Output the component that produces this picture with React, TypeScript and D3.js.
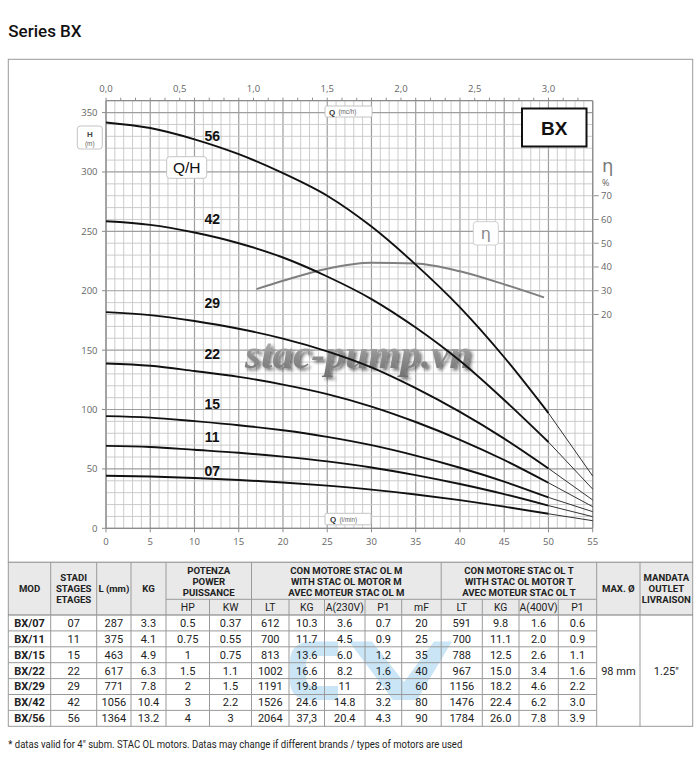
import React from 'react';
import * as d3 from 'd3';

// ---------- Curve data (flow in l/min, head in m) ----------
const flowLmin = [0, 5, 10, 15, 20, 25, 30, 35, 40, 45, 50, 55];
const head56 = [341.7, 337, 327.5, 315, 299, 280, 254, 222, 186, 144, 97, 44];
const head42 = [258.5, 255.5, 249, 240, 228, 212, 193, 169, 141, 108, 72.6, 33];
const head29 = [182, 179.5, 174.5, 168, 159.7, 149, 135.5, 118, 98, 75.5, 50.4, 23.8];
const head22 = [138.7, 136.8, 132.4, 127.5, 121, 113, 102.5, 89.5, 74.5, 57.5, 38.3, 18.2];
const head15 = [94.4, 93.2, 90.2, 86.8, 82.5, 77, 70, 61.2, 51, 39.3, 26, 14];
const head11 = [69.4, 68.5, 66.1, 63.6, 60.3, 56.3, 51.2, 44.8, 37.3, 28.8, 19.1, 9.8];
const head07 = [44.2, 43.6, 42.3, 40.7, 38.6, 35.9, 32.6, 28.5, 23.7, 18.2, 12.2, 6.4];
const curveNames = ['56', '42', '29', '22', '15', '11', '07'];
const curveHeads = [head56, head42, head29, head22, head15, head11, head07];

// efficiency curve
const effFlow = [17, 20, 25, 30, 35, 40, 45, 49.5];
const effValues = [30.7, 34.2, 39.3, 41.8, 41.5, 38.2, 32.7, 27.2];

// axis ticks
const headTicks = [0, 50, 100, 150, 200, 250, 300, 350];
const flowTicks = [0, 5, 10, 15, 20, 25, 30, 35, 40, 45, 50, 55];
const m3hLabels = [0, 0.5, 1.0, 1.5, 2.0, 2.5, 3.0];
const effTicks = [20, 30, 40, 50, 60, 70];

// ---------- Table data ----------
const models = ['BX/07', 'BX/11', 'BX/15', 'BX/22', 'BX/29', 'BX/42', 'BX/56'];
const stages = ['07', '11', '15', '22', '29', '42', '56'];
const lengthMm = ['287', '375', '463', '617', '771', '1056', '1364'];
const pumpKg = ['3.3', '4.1', '4.9', '6.3', '7.8', '10.4', '13.2'];
const powerHp = ['0.5', '0.75', '1', '1.5', '2', '3', '4'];
const powerKw = ['0.37', '0.55', '0.75', '1.1', '1.5', '2.2', '3'];
const mLt = ['612', '700', '813', '1002', '1191', '1526', '2064'];
const mKg = ['10.3', '11.7', '13.6', '16.6', '19.8', '24.6', '37,3'];
const mAmp = ['3.6', '4.5', '6.0', '8.2', '11', '14.8', '20.4'];
const mP1 = ['0.7', '0.9', '1.2', '1.6', '2.3', '3.2', '4.3'];
const mMf = ['20', '25', '35', '40', '60', '80', '90'];
const tLt = ['591', '700', '788', '967', '1156', '1476', '1784'];
const tKg = ['9.8', '11.1', '12.5', '15.0', '18.2', '22.4', '26.0'];
const tAmp = ['1.6', '2.0', '2.6', '3.4', '4.6', '6.2', '7.8'];
const tP1 = ['0.6', '0.9', '1.1', '1.6', '2.2', '3.0', '3.9'];
const maxDiameter = '98 mm';
const outletSize = '1.25"';

const subHeaders = ['HP', 'KW', 'LT', 'KG', 'A(230V)', 'P1', 'mF', 'LT', 'KG', 'A(400V)', 'P1'];

// ---------- Layout ----------
const W = 700;
const H = 772;
const plot = { left: 106, right: 592.7, top: 100.7, bottom: 528.3 };
const labelFlow = 12;
const labelHead = [330.5, 260, 189.3, 146.5, 104.5, 76.8, 48.2];
const colX = [8.3, 50.7, 96.7, 131, 166, 209.5, 251.5, 289, 324.5, 365, 401.7, 441.2, 482.3, 519, 558.3, 596.7, 640, 692.7];
const tableTop = 562.3;
const subTop = 599.3;
const headerBottom = 615;
const rowH = 15.9;

const axisFont = '"Open Sans", "Liberation Sans", sans-serif';
const tableFont = 'Roboto, "Liberation Sans", sans-serif';

export default function App() {
  const x = d3.scaleLinear().domain([0, 55]).range([plot.left, plot.right]);
  const y = d3.scaleLinear().domain([0, 360]).range([plot.bottom, plot.top]);
  const xM3 = d3.scaleLinear().domain([0, 3.3]).range([plot.left, plot.right]);
  const yEff = d3.scaleLinear().domain([0, 110]).range([y(140), y(360)]);

  const line = d3
    .line<number>()
    .x((_, i) => x(flowLmin[i]))
    .y((d) => y(d))
    .curve(d3.curveMonotoneX);

  const effLine = d3
    .line<number>()
    .x((_, i) => x(effFlow[i]))
    .y((d) => yEff(d))
    .curve(d3.curveMonotoneX);

  const minorV = d3.range(0, 56, 1);
  const minorH = d3.range(0, 361, 10);
  const m3hMinor = d3.range(0, 33).map((i) => i / 10);

  const lastMain = flowLmin.indexOf(50);

  const rows = [models, stages, lengthMm, pumpKg, powerHp, powerKw, mLt, mKg, mAmp, mP1, mMf, tLt, tKg, tAmp, tP1];
  const tableBottom = headerBottom + rowH * models.length;
  const mid = (a: number, b: number) => (colX[a] + colX[b]) / 2;

  const fullHeaderCols: { c: number; lines: string[] }[] = [
    { c: 0, lines: ['MOD'] },
    { c: 1, lines: ['STADI', 'STAGES', 'ETAGES'] },
    { c: 2, lines: ['L (mm)'] },
    { c: 3, lines: ['KG'] },
    { c: 15, lines: ['MAX. Ø'] },
    { c: 16, lines: ['MANDATA', 'OUTLET', 'LIVRAISON'] },
  ];
  const groupHeaders: { a: number; b: number; lines: string[] }[] = [
    { a: 4, b: 6, lines: ['POTENZA', 'POWER', 'PUISSANCE'] },
    { a: 6, b: 11, lines: ['CON MOTORE STAC OL M', 'WITH STAC OL MOTOR M', 'AVEC MOTEUR STAC OL M'] },
    { a: 11, b: 15, lines: ['CON MOTORE STAC OL T', 'WITH STAC OL MOTOR T', 'AVEC MOTEUR STAC OL T'] },
  ];
  const subLineCols = [5, 7, 8, 9, 10, 12, 13, 14];

  return (
    <svg
      width={W}
      height={H}
      viewBox={`0 0 ${W} ${H}`}
      style={{ position: 'absolute', left: 0, top: 0, background: '#fff' }}
    >
      <defs>
        <linearGradient id="wmFill" x1="0" y1="0" x2="0" y2="1">
          <stop offset="0" stopColor="#cfcfcf" />
          <stop offset="0.5" stopColor="#929292" />
          <stop offset="1" stopColor="#717171" />
        </linearGradient>
        <filter id="wmShadow" x="-10%" y="-30%" width="120%" height="160%">
          <feDropShadow dx="2.5" dy="2.5" stdDeviation="1.5" floodColor="#222" floodOpacity="0.6" />
        </filter>
      </defs>
      <rect x={0} y={0} width={W} height={H} fill="#fff" />

      {/* Title */}
      <text x={8.3} y={37} fontFamily={tableFont} fontWeight={500} fontSize={17} fill="#111">
        Series BX
      </text>

      {/* Outer frame */}
      <rect x={colX[0]} y={59.3} width={colX[17] - colX[0]} height={tableTop - 59.3} fill="none" stroke="#9a9a9a" strokeWidth={1} />

      {/* Grid */}
      <g>
        {minorV.map((v) => (
          <line
            key={'v' + v}
            x1={x(v)}
            x2={x(v)}
            y1={plot.top}
            y2={plot.bottom}
            stroke={v % 5 === 0 ? '#9e9e9e' : '#c6c6c6'}
            strokeWidth={v % 5 === 0 ? 1.2 : 0.9}
          />
        ))}
        {minorH.map((h) => (
          <line
            key={'h' + h}
            x1={plot.left}
            x2={plot.right}
            y1={y(h)}
            y2={y(h)}
            stroke={h % 50 === 0 ? '#9e9e9e' : '#c6c6c6'}
            strokeWidth={h % 50 === 0 ? 1.2 : 0.9}
          />
        ))}
        <line x1={plot.left} x2={plot.right} y1={plot.top} y2={plot.top} stroke="#8c8c8c" strokeWidth={1.2} />
        <line x1={plot.left} x2={plot.right} y1={plot.bottom} y2={plot.bottom} stroke="#8c8c8c" strokeWidth={1.2} />
        <line x1={plot.left} x2={plot.left} y1={plot.top} y2={plot.bottom} stroke="#8c8c8c" strokeWidth={1.2} />
        <line x1={plot.right} x2={plot.right} y1={plot.top} y2={plot.bottom} stroke="#8c8c8c" strokeWidth={1.2} />
      </g>

      {/* Top axis (m3/h) */}
      <g fontFamily={axisFont} fontSize={9.5} fill="#666">
        {m3hMinor.map((q) => (
          <line key={'tq' + q} x1={xM3(q)} x2={xM3(q)} y1={plot.top} y2={plot.top - 3} stroke="#8c8c8c" />
        ))}
        {m3hLabels.map((q) => (
          <text key={'tl' + q} x={xM3(q)} y={91.5} textAnchor="middle">
            {q.toFixed(1).replace('.', ',')}
          </text>
        ))}
      </g>

      {/* Left axis (H) */}
      <g fontFamily={axisFont} fontSize={9.5} fill="#666">
        {headTicks.map((h) => (
          <g key={'lh' + h}>
            <line x1={plot.left - 4} x2={plot.left} y1={y(h)} y2={y(h)} stroke="#8c8c8c" />
            <text x={97.5} y={y(h) + 3.4} textAnchor="end">
              {h}
            </text>
          </g>
        ))}
      </g>

      {/* Bottom axis (l/min) */}
      <g fontFamily={axisFont} fontSize={9.5} fill="#666">
        {flowTicks.map((f) => (
          <g key={'bf' + f}>
            <line x1={x(f)} x2={x(f)} y1={plot.bottom} y2={plot.bottom + 4} stroke="#8c8c8c" />
            <text x={x(f)} y={544.5} textAnchor="middle">
              {f}
            </text>
          </g>
        ))}
      </g>

      {/* Right axis (efficiency) */}
      <g fontFamily={axisFont} fontSize={9.5} fill="#666">
        {effTicks.map((e) => (
          <g key={'re' + e}>
            <line x1={plot.right + 1} x2={plot.right + 6} y1={yEff(e)} y2={yEff(e)} stroke="#8c8c8c" />
            <text x={601} y={yEff(e) + 3.4}>{e}</text>
          </g>
        ))}
        <text x={602} y={172} fontSize={18} fill="#7a7a7a" fontFamily='"DejaVu Sans", sans-serif'>η</text>
        <text x={602} y={186} fontSize={9}>%</text>
      </g>

      {/* Watermark text */}
      <text
        x={245}
        y={368}
        textLength={227}
        lengthAdjust="spacingAndGlyphs"
        fontFamily='"Liberation Serif", "DejaVu Serif", serif'
        fontStyle="italic"
        fontWeight="bold"
        fontSize={42}
        fill="url(#wmFill)"
        filter="url(#wmShadow)"
      >
        stac-pump.vn
      </text>

      {/* Efficiency curve */}
      <path d={effLine(effValues) || ''} fill="none" stroke="#7f7f7f" strokeWidth={2} />

      {/* Q/H curves */}
      <g fill="none">
        {curveHeads.map((hs, k) => (
          <g key={'c' + k}>
            <path d={line(hs.slice(0, lastMain + 1)) || ''} stroke="#111" strokeWidth={1.9} />
            <line
              x1={x(flowLmin[lastMain])}
              y1={y(hs[lastMain])}
              x2={x(flowLmin[flowLmin.length - 1])}
              y2={y(hs[hs.length - 1])}
              stroke="#333"
              strokeWidth={1}
            />
          </g>
        ))}
      </g>

      {/* Curve labels */}
      <g fontFamily='Arial, "Liberation Sans", sans-serif' fontWeight="bold" fontSize={14} fill="#111" textAnchor="middle">
        {curveNames.map((n, k) => (
          <text key={'n' + n} x={x(labelFlow)} y={y(labelHead[k]) + 5}>
            {n}
          </text>
        ))}
      </g>

      {/* Chart annotations */}
      <g fontFamily='Arial, "Liberation Sans", sans-serif'>
        <rect x={166.7} y={156.7} width={40} height={21.6} rx={3} fill="#fff" stroke="#c4c4c4" />
        <text x={186.7} y={173.3} textAnchor="middle" fontSize={15.5} fill="#111">Q/H</text>

        <rect x={77.3} y={126} width={25} height={23} rx={3} fill="#fff" stroke="#c4c4c4" />
        <text x={89.8} y={137} textAnchor="middle" fontSize={8} fontWeight="bold" fill="#444">H</text>
        <text x={89.8} y={145.5} textAnchor="middle" fontSize={6.5} fill="#666">(m)</text>

        <rect x={325} y={106} width={47} height={11} rx={1.5} fill="#fff" stroke="#c4c4c4" />
        <text x={329} y={114.5} fontSize={8} fontWeight="bold" fill="#333">Q</text>
        <text x={338.5} y={114.2} fontSize={6.3} fill="#666">(mc/h)</text>

        <rect x={325} y={513.3} width={46} height={11.5} rx={1.5} fill="#fff" stroke="#c4c4c4" />
        <text x={330} y={522} fontSize={8} fontWeight="bold" fill="#333">Q</text>
        <text x={339.5} y={521.7} fontSize={6.3} fill="#666">(l/min)</text>

        <rect x={522} y={108.5} width={64.5} height={38} fill="#fff" stroke="#111" strokeWidth={2} />
        <text x={554.2} y={134.5} textAnchor="middle" fontSize={19} fontWeight="bold" fill="#111">BX</text>

        <rect x={473.3} y={221.7} width={25} height={23.3} rx={3} fill="#fff" stroke="#cfcfcf" />
        <text x={485.8} y={238.5} textAnchor="middle" fontSize={16} fill="#8a8a8a" fontFamily='"DejaVu Sans", sans-serif'>η</text>
      </g>

      {/* Table header */}
      <rect x={colX[0]} y={tableTop} width={colX[17] - colX[0]} height={headerBottom - tableTop} fill="#e9e9e9" />

      {/* Watermark logo */}
      <g fill="#9fd0f0" opacity={0.55}>
        <path d="M 338 641.5 L 312 641.5 Q 290 641.5 290 662 L 290 681 Q 290 700 312 700 L 338 700 L 338 686 L 314 686 Q 306 686 306 678 L 306 664 Q 306 656 314 656 L 338 656 Z" />
        <path d="M 349 641.5 L 372 641.5 L 404 682 L 434 641.5 L 452 641.5 L 417 700 L 393 700 Z" />
      </g>

      <g fontFamily={tableFont} fill="#222">
        {fullHeaderCols.map(({ c, lines }) => {
          const cy = (tableTop + headerBottom) / 2;
          const start = cy - ((lines.length - 1) * 11.3) / 2;
          return lines.map((t, i) => (
            <text key={'fh' + c + i} x={mid(c, c + 1)} y={start + i * 11.3 + 3.5} textAnchor="middle" fontWeight="bold" fontSize={9.6}>
              {t}
            </text>
          ));
        })}
        {groupHeaders.map(({ a, b, lines }) =>
          lines.map((t, i) => (
            <text key={'gh' + a + i} x={mid(a, b)} y={tableTop + 8.2 + i * 10.8 + 3.5} textAnchor="middle" fontWeight="bold" fontSize={9.6}>
              {t}
            </text>
          ))
        )}
        {subHeaders.map((t, i) => (
          <text key={'sh' + i} x={mid(i + 4, i + 5)} y={(subTop + headerBottom) / 2 + 3.8} textAnchor="middle" fontSize={10.4}>
            {t}
          </text>
        ))}
        {rows.map((col, c) =>
          col.map((v, r) => (
            <text
              key={'d' + c + '-' + r}
              x={mid(c, c + 1)}
              y={headerBottom + rowH * (r + 0.5) + 3.9}
              textAnchor="middle"
              fontSize={11}
              fontWeight={c === 0 ? 'bold' : 'normal'}
            >
              {v}
            </text>
          ))
        )}
        <text x={mid(15, 16)} y={(headerBottom + tableBottom) / 2 + 3.9} textAnchor="middle" fontSize={11}>
          {maxDiameter}
        </text>
        <text x={mid(16, 17)} y={(headerBottom + tableBottom) / 2 + 3.9} textAnchor="middle" fontSize={11}>
          {outletSize}
        </text>
      </g>

      {/* Table grid lines */}
      <g stroke="#9a9a9a" strokeWidth={1}>
        <rect x={colX[0]} y={tableTop} width={colX[17] - colX[0]} height={tableBottom - tableTop} fill="none" />
        <line x1={colX[4]} x2={colX[15]} y1={subTop} y2={subTop} />
        <line x1={colX[0]} x2={colX[17]} y1={headerBottom} y2={headerBottom} stroke="#777" />
        {models.slice(1).map((_, r) => (
          <line key={'rl' + r} x1={colX[0]} x2={colX[15]} y1={headerBottom + rowH * (r + 1)} y2={headerBottom + rowH * (r + 1)} />
        ))}
        {colX.slice(1, 17).map((cx, i) => {
          const idx = i + 1;
          const top = subLineCols.includes(idx) ? subTop : tableTop;
          return <line key={'vl' + idx} x1={cx} x2={cx} y1={top} y2={tableBottom} />;
        })}
      </g>

      {/* Footnote */}
      <text x={8.3} y={748} fontFamily={tableFont} fontSize={11} fill="#222" textLength={454} lengthAdjust="spacingAndGlyphs">
        * datas valid for 4" subm. STAC OL motors. Datas may change if different brands / types of motors are used
      </text>
    </svg>
  );
}
